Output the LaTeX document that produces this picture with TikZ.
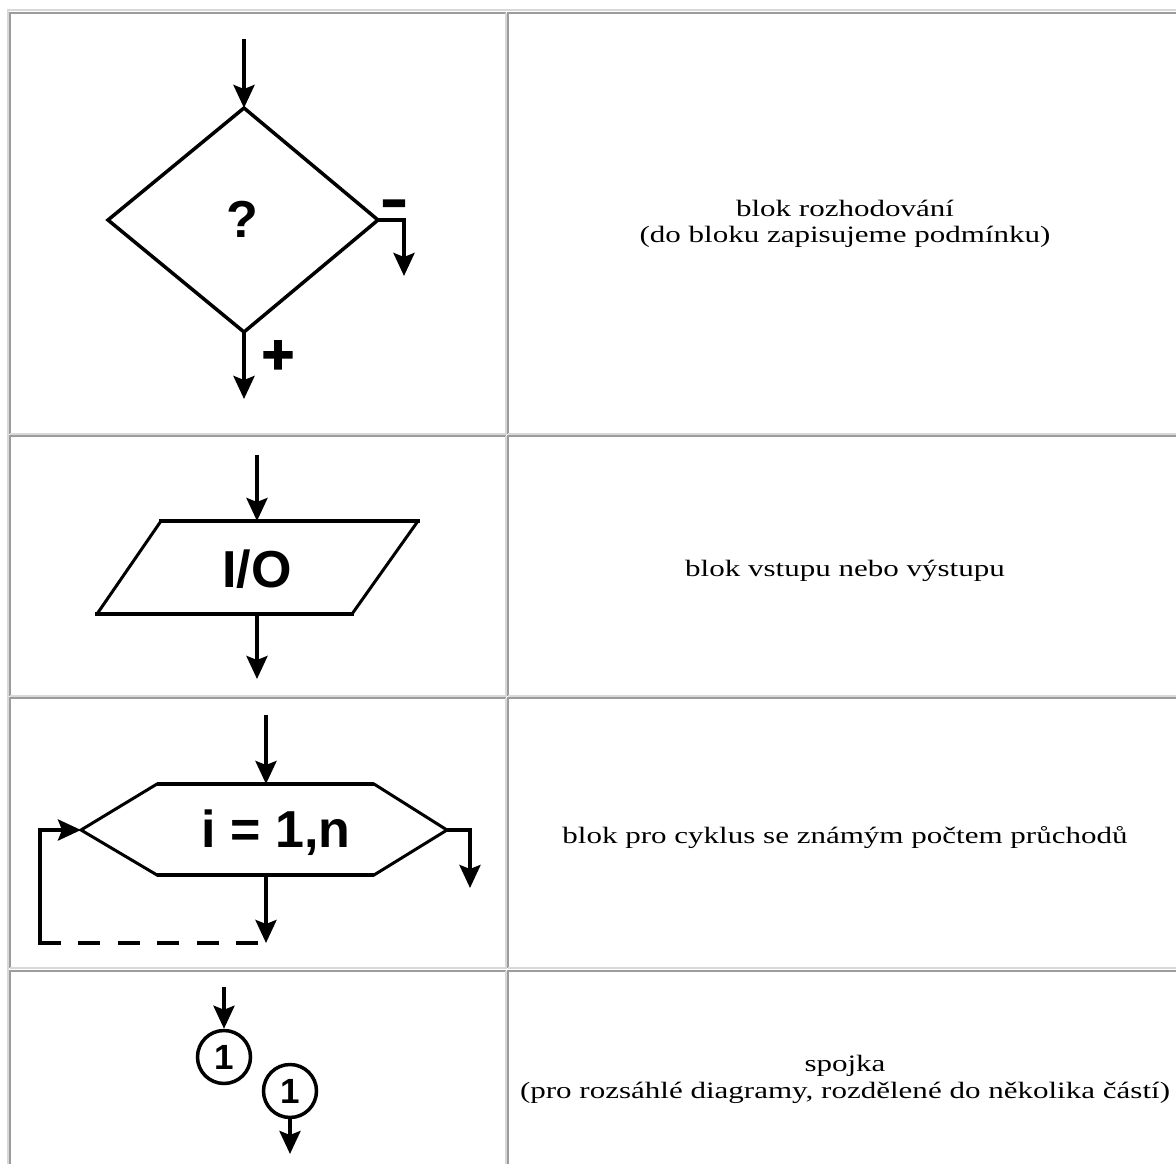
\documentclass[tikz,border=0pt]{standalone}
\usepackage{fontspec}
\setmainfont{Liberation Serif}
\setsansfont{Liberation Sans}
\newfontface\heavysign{Liberation Sans Bold}[FakeBold=3]
\usetikzlibrary{arrows.meta}

\definecolor{bdlight}{HTML}{D8D8D8}
\definecolor{bddark}{HTML}{9C9C9C}

% caption text: serif, set wide as in the table
\newcommand\captline[1]{\scalebox{1.32}[1]{\fontsize{23.5}{27}\selectfont #1}}

\tikzset{
  edgelight/.style={draw=bdlight, line width=2pt},
  edgedark/.style={draw=bddark, line width=2pt},
  symline/.style={line width=3.5pt, line join=miter},
  flow/.style={line width=4pt, -{Stealth[length=23pt,width=21pt,inset=4pt]}},
  flowplain/.style={line width=4pt},
  captnode/.style={anchor=base, inner sep=0pt},
  symtext/.style={inner sep=0pt, font=\sffamily\bfseries\fontsize{52}{52}\selectfont},
  conn/.style={circle, draw, line width=3.5pt, minimum size=53pt, inner sep=0pt,
               font=\sffamily\bfseries\fontsize{35}{35}\selectfont},
}

\begin{document}
\begin{tikzpicture}[x=1pt,y=-1pt]
\useasboundingbox (0,0) rectangle (1176,1164);
\fill[white] (0,0) rectangle (1176,1164);

% table frame
\draw[edgelight] (8,1164) -- (8,10) -- (1190,10);
\foreach \ya/\yb in {13/434, 436/695.5, 698/968, 971/1195}{
  \foreach \xa/\xb in {10/506, 508/1185}{
    \draw[edgedark]  (\xa,\yb) -- (\xa,\ya) -- (\xb,\ya);
    \draw[edgelight] (\xb,\ya) -- (\xb,\yb) -- (\xa,\yb);
  }
}

% ---------- decision block ----------
\coordinate (dT) at (244,108);
\coordinate (dL) at (108,220);
\coordinate (dR) at (378,220);
\coordinate (dB) at (244,332);
\draw[symline] (dT) -- (dR) -- (dB) -- (dL) -- cycle;
\node[symtext] (dq) at (242,219) {?};
\coordinate (dIn) at (244,39);
\coordinate (dNoCorner) at (404,220);
\coordinate (dNoEnd) at (404,276);
\coordinate (dYesEnd) at (244,399);
\draw[flow] (dIn) -- (dT);
\draw[flow] (dR) -- (dNoCorner) -- (dNoEnd);
\draw[flow] (dB) -- (dYesEnd);
\node[inner sep=0pt, anchor=center, font=\heavysign\fontsize{55}{55}\selectfont] (dplus) at (278,357) {+};
\node[anchor=base, inner sep=0pt, font=\heavysign\fontsize{42}{42}\selectfont] (dminus) at (394,219) {\scalebox{1}[1.4]{–}};

% ---------- input / output block ----------
\coordinate (pTL) at (161,521);
\coordinate (pTR) at (418,521);
\coordinate (pBR) at (352,614);
\coordinate (pBL) at (97,614);
\draw[line width=3pt] (pTR) -- (pBR) (pBL) -- (pTL);
\draw[line width=4.5pt, line cap=rect] (pTL) -- (pTR) (pBL) -- (pBR);
\node[symtext, anchor=base] (io) at (257,587) {I/O};
\coordinate (pIn) at (257,455);
\coordinate (pTop) at (257,521);
\coordinate (pBot) at (257,614);
\coordinate (pOut) at (257,679);
\draw[flow] (pIn) -- (pTop);
\draw[flow] (pBot) -- (pOut);

% ---------- loop block ----------
\coordinate (hTL) at (157,784);
\coordinate (hTR) at (374,784);
\coordinate (hR) at (447,830);
\coordinate (hBR) at (374,875);
\coordinate (hBL) at (157,875);
\coordinate (hL) at (81,830);
\draw[line width=3pt, line join=miter] (hTL) -- (hTR) -- (hR) -- (hBR) -- (hBL) -- (hL) -- cycle;
\draw[line width=4.5pt] (hTL) -- (hTR) (hBL) -- (hBR);
\node[symtext, anchor=base] (loopvar) at (276,847) {i = 1,n};
\coordinate (hIn) at (266,715);
\coordinate (hTop) at (266,784);
\coordinate (hBot) at (266,875);
\coordinate (hOut) at (266,943);
\coordinate (hExitCorner) at (470,830);
\coordinate (hExitEnd) at (470,888);
\coordinate (hBackStart) at (258,943);
\coordinate (hBackSolid) at (60,943);
\coordinate (hBackCorner) at (40,943);
\coordinate (hBackUp) at (40,830);
\draw[flow] (hIn) -- (hTop);
\draw[flow] (hBot) -- (hOut);
\draw[flow] (hR) -- (hExitCorner) -- (hExitEnd);
\draw[flowplain, dash pattern=on 22pt off 17.5pt] (hBackStart) -- (hBackSolid);
\draw[flow, line join=miter] (hBackSolid) -- (hBackCorner) -- (hBackUp) -- (hL);

% ---------- connectors ----------
\node[conn] (c1) at (224,1057) {1};
\node[conn] (c2) at (290,1091) {1};
\coordinate (cIn) at (224,987);
\coordinate (cOut) at (290,1154);
\draw[flow] (cIn) -- (c1.north);
\draw[flow] (c2.south) -- (cOut);

% ---------- descriptions ----------
\node[captnode] (t1a) at (845,216) {\captline{blok rozhodování}};
\node[captnode] (t1b) at (845,242) {\captline{(do bloku zapisujeme podmínku)}};
\node[captnode] (t2)  at (845,576) {\captline{blok vstupu nebo výstupu}};
\node[captnode] (t3)  at (845,843) {\captline{blok pro cyklus se známým počtem průchodů}};
\node[captnode] (t4a) at (845,1071) {\captline{spojka}};
\node[captnode] (t4b) at (845,1098) {\captline{(pro rozsáhlé diagramy, rozdělené do několika částí)}};
\end{tikzpicture}
\end{document}
